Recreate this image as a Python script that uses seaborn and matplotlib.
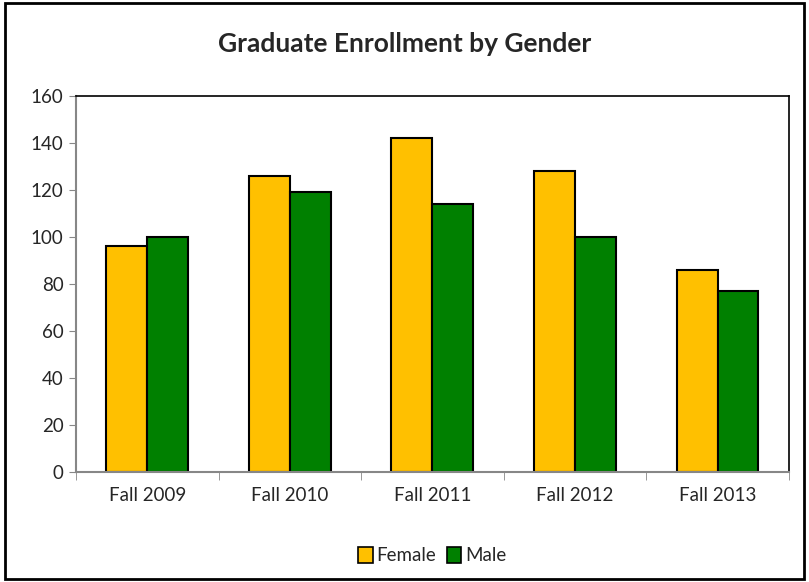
import matplotlib
matplotlib.use("Agg")
import matplotlib.pyplot as plt
import seaborn as sns
import pandas as pd
from matplotlib.patches import Rectangle
from matplotlib.ticker import FixedLocator

categories = ["Fall 2009", "Fall 2010", "Fall 2011", "Fall 2012", "Fall 2013"]
female = [96, 126, 142, 128, 86]
male = [100, 119, 114, 100, 77]
series = ["Female", "Male"]
colors = ["#FFC000", "#008000"]

df = pd.DataFrame({
    "Term": categories * 2,
    "Gender": ["Female"] * len(categories) + ["Male"] * len(categories),
    "Count": female + male,
})

sns.set_style("white")
plt.rcParams["font.family"] = ["Lato", "DejaVu Sans"]

fig = plt.figure(figsize=(8.09, 5.82), dpi=100)
ax = fig.add_axes([0.094, 0.189, 0.881, 0.646])

sns.barplot(data=df, x="Term", y="Count", hue="Gender", palette=colors,
            hue_order=series, order=categories, width=0.575, dodge=True,
            saturation=1, edgecolor="black", linewidth=1.5, ax=ax, legend=True)

ax.set_ylim(0, 160)
ax.set_xlim(-0.5, 4.5)
ax.set_yticks(range(0, 161, 20))
ax.set_xlabel("")
ax.set_ylabel("")
ax.tick_params(axis="y", labelsize=13.5, length=5, color="#878787", direction="out", left=True, pad=4)
ax.tick_params(axis="x", which="major", labelsize=13.5, length=0, pad=11)
ax.xaxis.set_minor_locator(FixedLocator([i - 0.5 for i in range(len(categories) + 1)]))
ax.tick_params(axis="x", which="minor", length=6, color="#878787", direction="out", bottom=True)

for side in ["top", "right"]:
    ax.spines[side].set_color("black")
    ax.spines[side].set_linewidth(1.2)
for side in ["left", "bottom"]:
    ax.spines[side].set_color("#878787")
    ax.spines[side].set_linewidth(1.5)

fig.suptitle("Graduate Enrollment by Gender", fontsize=19, fontweight="bold", y=0.945)

leg = ax.legend(loc="upper center", bbox_to_anchor=(0.5, -0.155), ncol=2, frameon=False,
                fontsize=13.5, handlelength=0.75, handleheight=0.9, handletextpad=0.2,
                columnspacing=0.6)
for h in leg.legend_handles:
    h.set_edgecolor("black")
    h.set_linewidth(1.2)

fig.patches.append(Rectangle((0.006, 0.006), 0.988, 0.988, transform=fig.transFigure,
                             fill=False, edgecolor="black", linewidth=2))

fig.savefig("out.png", dpi=100)
